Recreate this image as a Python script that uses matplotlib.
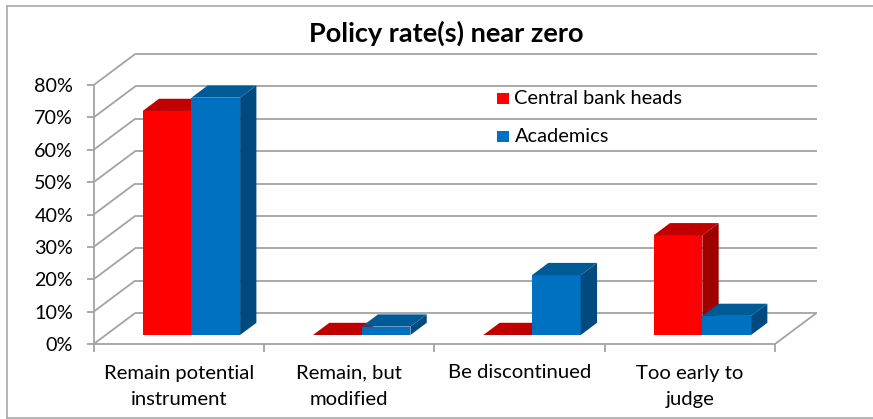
import matplotlib
matplotlib.use("Agg")
import matplotlib.pyplot as plt
from matplotlib.patches import Polygon, Rectangle

categories = ["Remain potential\ninstrument", "Remain, but\nmodified", "Be discontinued", "Too early to\njudge"]
central_bank_heads = [69.2, 0, 0, 30.8]
academics = [73.3, 2.6, 18.5, 5.9]
y_ticks = [0, 10, 20, 30, 40, 50, 60, 70, 80]
y_labels = ["0%", "10%", "20%", "30%", "40%", "50%", "60%", "70%", "80%"]

W, H = 873, 419
plt.rcParams['font.family'] = ['Lato', 'DejaVu Sans']
fig = plt.figure(figsize=(W / 100, H / 100), dpi=100)
fig.patch.set_facecolor('white')

L, R, T, B = 93.7, 775.0, 85.0, 344.0
ax = fig.add_axes([L / W, 1 - B / H, (R - L) / W, (B - T) / H])
ax.set_xlim(0, 4)
ax.set_ylim(0, 80)
ax.axis('off')

xu = (R - L) / 4
yu = (B - T) / 80
depth_x, depth_y = 41.5 / xu, 31 / yu          # wall depth
bar_dx, bar_dy = 16.3 / xu, 12.2 / yu          # bar depth
base_y = 9 / yu                                 # bar floor offset
bar_w = 48.7 / xu
bar_start = 49 / xu

grid = '#A3A3A3'
lw = 1.3
kw = dict(color=grid, lw=lw, clip_on=False, solid_capstyle='butt')
for v in y_ticks:
    ax.plot([0, depth_x], [v, v + depth_y], zorder=1, **kw)
    ax.plot([depth_x, 4 + depth_x], [v + depth_y, v + depth_y], zorder=1, **kw)
    ax.plot([-6.5 / xu, 0], [v, v], zorder=1, **kw)
ax.plot([0, 0], [0, 80], zorder=1, **kw)
ax.plot([0, 4], [0, 0], zorder=1, **kw)
ax.plot([4, 4 + depth_x], [0, depth_y], zorder=1, **kw)
for i in range(5):
    ax.plot([i, i], [0, -8 / yu], zorder=1, **kw)


def bar3d(x, v, front, top, side, z):
    b = base_y
    if v > 0:
        ax.add_patch(Rectangle((x, b), bar_w, v, fc=front, ec='none', zorder=z, clip_on=False))
        ax.add_patch(Polygon([(x + bar_w, b), (x + bar_w + bar_dx, b + bar_dy),
                              (x + bar_w + bar_dx, b + v + bar_dy), (x + bar_w, b + v)],
                             fc=side, ec='none', zorder=z, clip_on=False))
    ax.add_patch(Polygon([(x, b + v), (x + bar_dx, b + v + bar_dy),
                          (x + bar_w + bar_dx, b + v + bar_dy), (x + bar_w, b + v)],
                         fc=top, ec='none', zorder=z, clip_on=False))


for i in range(4):
    x0 = i + bar_start
    bar3d(x0, central_bank_heads[i], '#FF0000', '#C00000', '#9E0000', 3 + i)
    bar3d(x0 + bar_w, academics[i], '#0070C0', '#005A96', '#004A80', 3 + i + 0.5)

for v, s in zip(y_ticks, y_labels):
    ax.text(-20.5 / xu, v - 0.0, s, ha='right', va='center_baseline', fontsize=14.2, color='black', clip_on=False)
for i, c in enumerate(categories):
    for j, line in enumerate(c.split("\n")):
        ax.text(i + 0.5, -(373 + 26 * j - B) / yu, line, ha='center', va='center', fontsize=14.6,
                color='black', clip_on=False)

fig.text(446 / W, 1 - 33 / H, "Policy rate(s) near zero", ha='center', va='center',
         fontsize=19.5, fontweight='bold', color='black')

# legend
for y, c, s in [(99, '#FF0000', 'Central bank heads'), (136.5, '#0070C0', 'Academics')]:
    fig.patches.append(Rectangle((497.3 / W, 1 - (y + 5.5) / H), 11.5 / W, 11 / H, fc=c, ec='none',
                                 transform=fig.transFigure))
    fig.text(514.5 / W, 1 - y / H, s, ha='left', va='center', fontsize=14.4, color='black')

# outer frame
frame_kw = dict(color='#A8A8A8', lw=1.2, transform=fig.transFigure)
fig.add_artist(plt.Line2D([6.5 / W, 1], [1 - 418 / H] * 2, **frame_kw))
fig.add_artist(plt.Line2D([6.5 / W, 1], [1 - 6 / H] * 2, **frame_kw))
fig.add_artist(plt.Line2D([6.5 / W] * 2, [1 - 6 / H, 1 - 418 / H], **frame_kw))

fig.savefig('out.png', dpi=100)
